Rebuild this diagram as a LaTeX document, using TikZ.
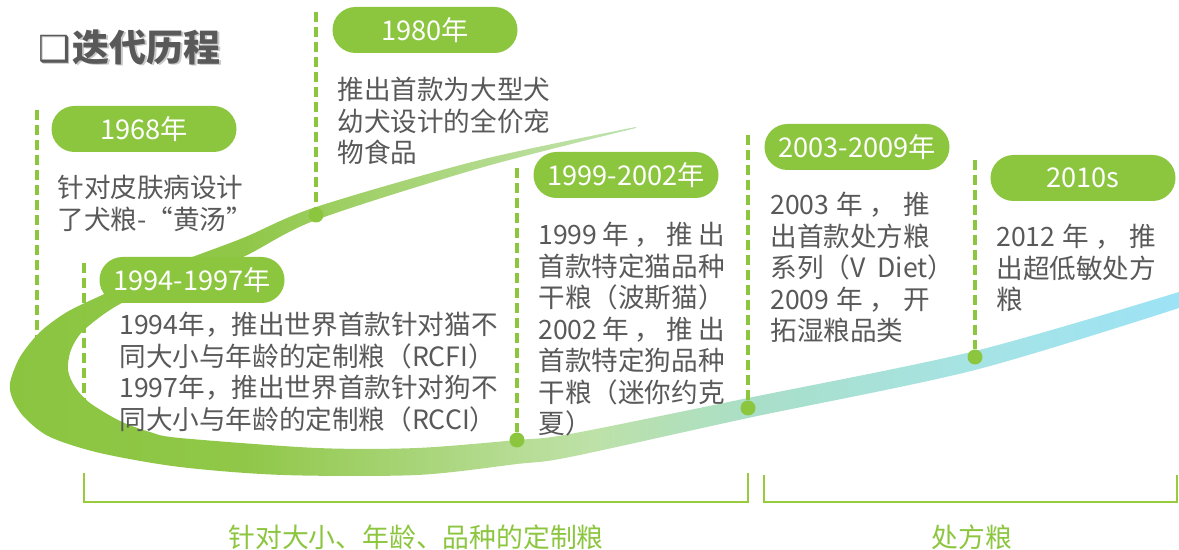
\documentclass[tikz,border=0pt]{standalone}
\usepackage{fontspec}
\setmainfont{Noto Sans CJK SC}
\newfontfamily\symfont{DejaVu Sans}
\usetikzlibrary{shapes.misc}
\definecolor{pillgreen}{HTML}{8CC63F}
\definecolor{txtgray}{HTML}{595959}
\definecolor{brgreen}{HTML}{97CB3B}
\definecolor{titleshadow}{HTML}{C8C8C8}
\definecolor{swA}{HTML}{8BC540}
\definecolor{swB}{HTML}{90C748}
\definecolor{swC}{HTML}{B7DD96}
\definecolor{swD}{HTML}{BDE1A8}
\definecolor{swE}{HTML}{A9DFC9}
\definecolor{swF}{HTML}{A6E3E4}
\definecolor{swG}{HTML}{9DE3F6}
\pgfdeclarehorizontalshading{swooshshade}{100bp}{color(0bp)=(swA); color(25bp)=(swA); color(35bp)=(swB); color(47bp)=(swC); color(50bp)=(swD); color(57bp)=(swE); color(66bp)=(swF); color(75bp)=(swG); color(100bp)=(swG)}
\newcommand{\jline}[2]{\makebox[#1][s]{#2}}
\tikzset{
  pill/.style={rounded rectangle, fill=pillgreen, text=white, minimum width=92.5pt, minimum height=23pt, inner sep=0pt, font=\fontsize{13.6}{16}\selectfont},
  dashv/.style={pillgreen, line width=2pt, dash pattern=on 5pt off 2.5pt},
  tdot/.style={circle, fill=pillgreen, minimum size=7.5pt, inner sep=0pt},
  body/.style={text=txtgray, font=\fontsize{13.3}{15.75}\selectfont, align=left, inner sep=0pt, anchor=north west},
  bracket/.style={brgreen, line width=1.2pt},
  brlabel/.style={text=pillgreen, font=\fontsize{13.4}{16}\selectfont, inner sep=0pt},
  titlestyle/.style={anchor=west, inner sep=0pt},
}
\begin{document}
\begin{tikzpicture}[x=0.5pt,y=-0.5pt]
\useasboundingbox[fill=white] (0,0) rectangle (1179,550);

% title with shadow
\node[titlestyle, text=titleshadow] (titleshadow) at (39.5,48.5) {{\symfont\fontsize{18}{18}\selectfont ❑}\hspace{1pt}{\fontsize{18.5}{20}\selectfont\bfseries 迭代历程}};
\node[titlestyle, text=txtgray] (title) at (38,47) {{\symfont\fontsize{18}{18}\selectfont ❑}\hspace{1pt}{\fontsize{18.5}{20}\selectfont\bfseries 迭代历程}};

% first dashed line (behind the swoosh)
\coordinate (l1top) at (37,110);
\coordinate (l1bot) at (37,345);
\draw[dashv] (l1top) -- (l1bot);

% swoosh ribbon
\shade[shading=swooshshade]
  plot[smooth] coordinates {(636,127) (480,160) (316,207) (243,238) (179,262) (130,282) (100,296) (67,312) (40,332) (20,357) (10,383) (13,400) (25,418) (50,437) (100,453) (180,467) (283,475) (417,475) (517,464) (570,457) (748,418) (975,370) (1179,308)}
  -- plot[smooth] coordinates {(1179,292) (975,351) (748,398) (570,434) (517,440) (417,448) (317,448) (180,438) (150,432) (120,421) (90,403) (75,387) (68,370) (71,350) (84,330) (120,304) (179,280) (243,257) (316,220) (480,168) (636,128)}
  -- cycle;

% dots
\node[tdot] (d1980) at (316,215) {};
\node[tdot] (d1999) at (517,440) {};
\node[tdot] (d2003) at (748,408) {};
\node[tdot] (d2010) at (975,357) {};

% dashed lines
\coordinate (l2top) at (316,12);
\coordinate (l3top) at (84,263);
\coordinate (l3bot) at (84,400);
\coordinate (l4top) at (517,168);
\coordinate (l5top) at (748,135);
\coordinate (l6top) at (975,160);
\draw[dashv] (l2top) -- (d1980);
\draw[dashv] (l3top) -- (l3bot);
\draw[dashv] (l4top) -- (d1999);
\draw[dashv] (l5top) -- (d2003);
\draw[dashv] (l6top) -- (d2010);

% pills
\node[pill] (p1968) at (144,129) {1968年};
\node[pill] (p1980) at (425,30) {1980年};
\node[pill] (p1994) at (192,280) {1994-1997年};
\node[pill] (p1999) at (626,175) {1999-2002年};
\node[pill] (p2003) at (857,147) {2003-2009年};
\node[pill] (p2010) at (1083,178) {2010s};

% texts
\node[body] (t1968) at (57,175) {针对皮肤病设计\\了犬粮-“黄汤”};
\node[body] (t1980) at (337,77) {推出首款为大型犬\\幼犬设计的全价宠\\物食品};
\node[body] (t1994) at (119,312) {1994年，推出世界首款针对猫不\\同大小与年龄的定制粮（RCFI）\\1997年，推出世界首款针对狗不\\同大小与年龄的定制粮（RCCI）};
\node[body] (t1999) at (538,222) {\jline{7em}{1999 年 ， 推 出}\\首款特定猫品种\\干粮（波斯猫）\\\jline{7em}{2002 年 ， 推 出}\\首款特定狗品种\\干粮（迷你约克\\夏）};
\node[body] (t2003) at (770,192) {\jline{6em}{2003 年 ， 推}\\出首款处方粮\\系列（V~~Diet）\\\jline{6em}{2009 年 ， 开}\\拓湿粮品类};
\node[body] (t2010) at (996,224) {\jline{6em}{2012 年 ， 推}\\出超低敏处方\\粮};

% brackets
\coordinate (b1a) at (84,473);
\coordinate (b1b) at (84,502);
\coordinate (b1c) at (748,502);
\coordinate (b1d) at (748,473);
\draw[bracket] (b1a) -- (b1b) -- (b1c) -- (b1d);
\coordinate (b2a) at (764,475);
\coordinate (b2b) at (764,502);
\coordinate (b2c) at (1177,502);
\coordinate (b2d) at (1177,475);
\draw[bracket] (b2a) -- (b2b) -- (b2c) -- (b2d);
\node[brlabel] (lab1) at (416,537) {针对大小、年龄、品种的定制粮};
\node[brlabel] (lab2) at (972,537) {处方粮};
\end{tikzpicture}
\end{document}
